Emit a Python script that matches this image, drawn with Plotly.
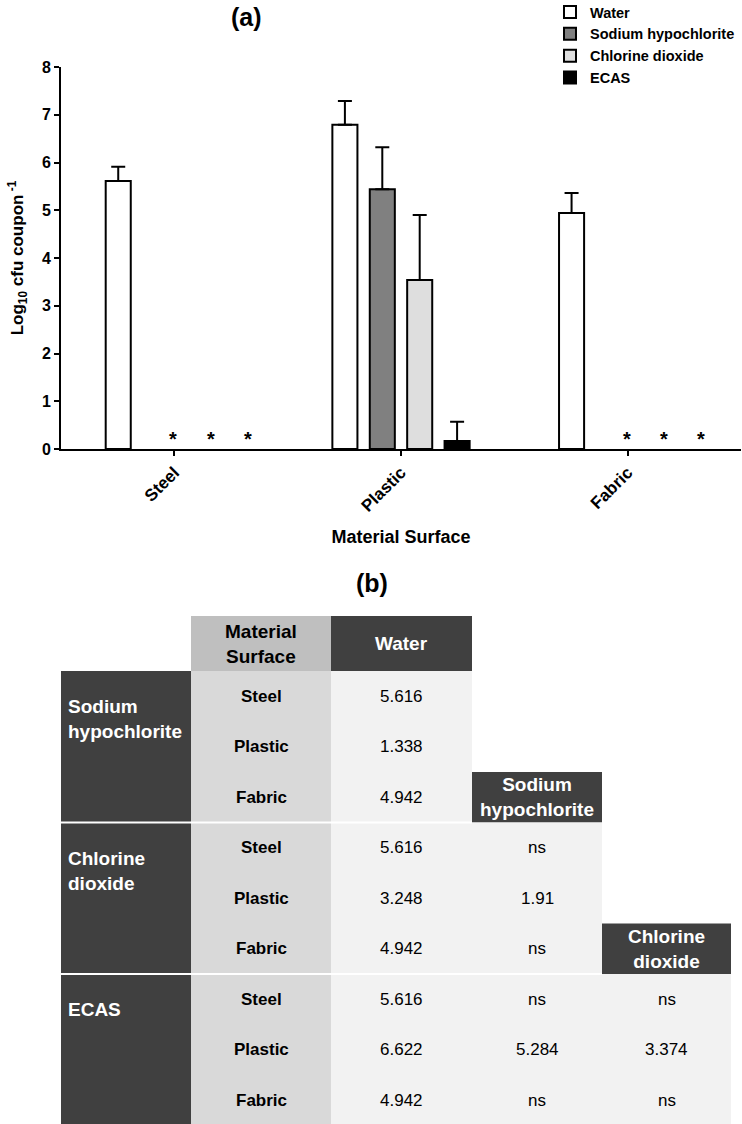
import plotly.graph_objects as go

# ---------------- data ----------------
surfaces = ["Steel", "Plastic", "Fabric"]
treatments = ["Water", "Sodium hypochlorite", "Chlorine dioxide", "ECAS"]

water_mean = [5.61, 6.79, 4.94]
water_err = [0.30, 0.50, 0.42]
sodium_mean = [None, 5.44, None]
sodium_err = [0, 0.88, 0]
chlorine_mean = [None, 3.54, None]
chlorine_err = [0, 1.36, 0]
ecas_mean = [None, 0.17, None]
ecas_err = [0, 0.40, 0]

# '*' = below detection (per treatment, per surface)
sodium_star = [True, False, True]
chlorine_star = [True, False, True]
ecas_star = [True, False, True]

# table (b)
table_groups = ["Sodium<br>hypochlorite", "Chlorine<br>dioxide", "ECAS"]
table_surfaces = ["Steel", "Plastic", "Fabric"]
compare_headers = ["Water", "Sodium<br>hypochlorite", "Chlorine<br>dioxide"]
vs_water = [["5.616", "1.338", "4.942"],
            ["5.616", "3.248", "4.942"],
            ["5.616", "6.622", "4.942"]]
vs_sodium = [None,
             ["ns", "1.91", "ns"],
             ["ns", "5.284", "ns"]]
vs_chlorine = [None,
               None,
               ["ns", "3.374", "ns"]]

# ---------------- styles / layout ----------------
W, H = 742, 1124
FONT = "Liberation Sans, Arial, sans-serif"
fill_colors = ["#ffffff", "#808080", "#dedede", "#000000"]
DARK = "#404040"
MAT_HEAD = "#bfbfbf"
MAT_COL = "#d9d9d9"
VAL_COL = "#f2f2f2"

def px(x):
    return x / W

def py(y):
    return 1 - y / H

X0, X1 = 61, 741      # chart plot area (pixels)
Y_TOP, Y_BOT = 67, 449
BARGAP, BARGROUPGAP = 0.34, 0.33

fig = go.Figure()
means = [water_mean, sodium_mean, chlorine_mean, ecas_mean]
errs = [water_err, sodium_err, chlorine_err, ecas_err]
for name, m, e, c in zip(treatments, means, errs, fill_colors):
    fig.add_trace(go.Bar(
        x=surfaces, y=m, name=name,
        marker=dict(color=c, line=dict(color="black", width=2)),
        error_y=dict(type="data", array=e, arrayminus=[0] * len(e),
                     symmetric=False, color="black", thickness=2, width=7),
    ))

# asterisks placed relative to bar slots
cat_w = (X1 - X0) / len(surfaces)
slot = cat_w * (1 - BARGAP) / len(treatments)
annotations = []
for k, flags in enumerate([sodium_star, chlorine_star, ecas_star], start=1):
    for s, f in zip(surfaces, flags):
        if f:
            annotations.append(dict(
                x=s, y=0, xref="x", yref="y", text="<b>*</b>", showarrow=False,
                xshift=(k - 1) * slot - 1, xanchor="center", yanchor="bottom", yshift=-3,
                font=dict(family=FONT, size=20, color="black")))

annotations.append(dict(x=px(246), y=py(17), xref="paper", yref="paper",
                        text="<b>(a)</b>", showarrow=False, xanchor="center", yanchor="middle",
                        font=dict(family=FONT, size=25, color="black")))
annotations.append(dict(x=px(372), y=py(583), xref="paper", yref="paper",
                        text="<b>(b)</b>", showarrow=False, xanchor="center", yanchor="middle",
                        font=dict(family=FONT, size=25, color="black")))

# ---------------- table (b) ----------------
col_w = [130, 140, 141, 130, 129]
edges = [61]
for w in col_w:
    edges.append(edges[-1] + w)
HEAD_TOP, HEAD_BOT = 616, 671
ROW_H = 50.5
shapes = []

def rect(x0, x1, y0, y1, color):
    shapes.append(dict(type="rect", xref="paper", yref="paper",
                       x0=px(x0), x1=px(x1), y0=py(y1), y1=py(y0),
                       fillcolor=color, line=dict(width=0), layer="below"))

def text(x, y, s, color, bold=False, size=17, xanchor="center", yanchor="middle", align="center"):
    annotations.append(dict(x=px(x), y=py(y), xref="paper", yref="paper",
                            text=f"<b>{s}</b>" if bold else s, showarrow=False,
                            xanchor=xanchor, yanchor=yanchor, align=align,
                            font=dict(family=FONT, size=size, color=color)))

HEAD_FS = 19
# header row
rect(edges[1], edges[2], HEAD_TOP, HEAD_BOT, MAT_HEAD)
text((edges[1] + edges[2]) / 2, (HEAD_TOP + HEAD_BOT) / 2, "Material<br>Surface", "black", True, HEAD_FS)
rect(edges[2], edges[3], HEAD_TOP, HEAD_BOT, DARK)
text((edges[2] + edges[3]) / 2, (HEAD_TOP + HEAD_BOT) / 2, compare_headers[0], "white", True, HEAD_FS)

compare_values = [vs_water, vs_sodium, vs_chlorine]
n_rows = len(table_surfaces)
for g, gname in enumerate(table_groups):
    gy0 = HEAD_BOT + g * n_rows * ROW_H
    gy1 = gy0 + n_rows * ROW_H
    rect(edges[0], edges[1], gy0, gy1, DARK)
    text(edges[0] + 5, gy0 + 23, gname, "white", True, HEAD_FS, xanchor="left", yanchor="top", align="left")
    rect(edges[1], edges[2], gy0, gy1, MAT_COL)
    for r, s in enumerate(table_surfaces):
        text((edges[1] + edges[2]) / 2, gy0 + (r + 0.5) * ROW_H, s, "black", True, 17)
    for j, vals in enumerate(compare_values):
        c0, c1 = edges[2 + j], edges[3 + j]
        if vals[g] is not None:
            rect(c0, c1, gy0, gy1, VAL_COL)
            for r, v in enumerate(vals[g]):
                text((c0 + c1) / 2, gy0 + (r + 0.5) * ROW_H, v, "black", False, 17)
        elif j >= 1 and g == j - 1:
            # column header sits in the last row of the preceding group
            hy0 = gy1 - ROW_H
            rect(c0, c1, hy0, gy1, DARK)
            text((c0 + c1) / 2, (hy0 + gy1) / 2, compare_headers[j], "white", True, HEAD_FS)
    if g > 0:
        shapes.append(dict(type="line", xref="paper", yref="paper",
                           x0=px(edges[0]), x1=px(edges[2 + g]), y0=py(gy0), y1=py(gy0),
                           line=dict(color="white", width=2)))

fig.update_layout(
    width=W, height=H,
    margin=dict(l=0, r=0, t=0, b=0, autoexpand=False),
    paper_bgcolor="white", plot_bgcolor="white",
    barmode="group", bargap=BARGAP, bargroupgap=BARGROUPGAP,
    font=dict(family=FONT, color="black"),
    showlegend=True,
    legend=dict(x=px(550), y=1 + 4 / H, xanchor="left", yanchor="top",
                font=dict(family=FONT, size=14.5, color="black", weight="bold"),
                bgcolor="rgba(0,0,0,0)", traceorder="normal"),
    xaxis=dict(domain=[px(X0), px(X1)], automargin=False,
               showline=True, linecolor="black", linewidth=2,
               ticks="outside", ticklen=5, tickwidth=2, tickcolor="black",
               tickangle=-45, showgrid=False,
               tickfont=dict(family=FONT, size=17, color="black", weight="bold"),
               title=dict(text="<b>Material Surface</b>", standoff=16,
                          font=dict(family=FONT, size=18, color="black"))),
    yaxis=dict(domain=[py(Y_BOT), py(Y_TOP)], range=[0, 8], dtick=1, automargin=False,
               showline=True, linecolor="black", linewidth=2,
               ticks="outside", ticklen=5, tickwidth=2, tickcolor="black",
               showgrid=False, zeroline=False,
               tickfont=dict(family=FONT, size=16, color="black", weight="bold"),
               title=dict(text="<b>Log<sub>10</sub> cfu coupon<sup> -1</sup></b>", standoff=14,
                          font=dict(family=FONT, size=17, color="black"))),
    shapes=shapes,
    annotations=annotations,
)

fig.write_html("out.html", config={"displayModeBar": False},
               post_script="document.body.style.margin='0px';")
